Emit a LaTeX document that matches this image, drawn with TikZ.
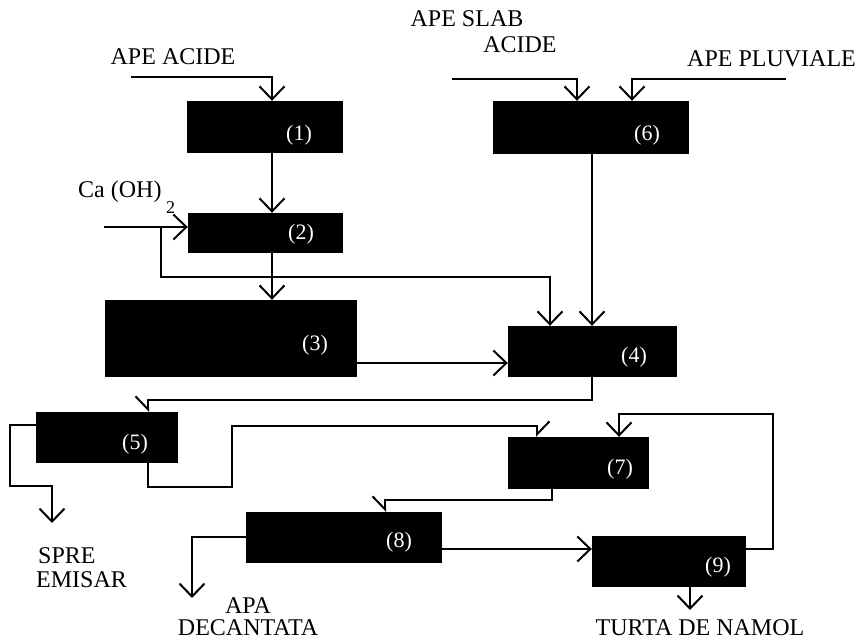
\documentclass[tikz,border=0pt]{standalone}
\usepackage{fontspec}
\setmainfont{Liberation Serif}
\usetikzlibrary{arrows.meta,calc}
\begin{document}
\begin{tikzpicture}[x=1pt,y=-1pt,
  blk/.style={fill=black,draw=none,inner sep=0pt},
  num/.style={text=white,inner sep=0pt,font=\fontsize{22}{22}\selectfont},
  txt/.style={inner sep=0pt,anchor=base,font=\fontsize{24}{24}\selectfont},
  ln/.style={line width=2pt},
  arr/.style={ln,-{Straight Barb[length=13pt,width=25pt,line width=2pt]}},
  arrL/.style={ln,-{Straight Barb[length=13pt,width=25pt,line width=2pt,left]}},
  arrR/.style={ln,-{Straight Barb[length=13pt,width=25pt,line width=2pt,right]}}]
\useasboundingbox (0,0) rectangle (857,639);
\fill[white] (0,0) rectangle (857,639);
% boxes
\node[blk,minimum width=156pt,minimum height=52pt] (b1) at (265,127) {};
\node[blk,minimum width=155pt,minimum height=40pt] (b2) at (265.5,233) {};
\node[blk,minimum width=252pt,minimum height=77pt] (b3) at (231,338.5) {};
\node[blk,minimum width=169pt,minimum height=51pt] (b4) at (592.5,351.5) {};
\node[blk,minimum width=142pt,minimum height=51pt] (b5) at (107,437.5) {};
\node[blk,minimum width=196pt,minimum height=53pt] (b6) at (591,127.5) {};
\node[blk,minimum width=141pt,minimum height=52pt] (b7) at (578.5,463) {};
\node[blk,minimum width=196pt,minimum height=51pt] (b8) at (344,537.5) {};
\node[blk,minimum width=154pt,minimum height=51pt] (b9) at (669,561.5) {};
% numbers
\node[num] (n1) at (299,135) {(1)};
\node[num] (n2) at (301,234) {(2)};
\node[num] (n3) at (315,345) {(3)};
\node[num] (n4) at (634,357) {(4)};
\node[num] (n5) at (135,444) {(5)};
\node[num] (n6) at (647,135) {(6)};
\node[num] (n7) at (620,469) {(7)};
\node[num] (n8) at (399,542) {(8)};
\node[num] (n9) at (718,567) {(9)};
% texts
\node[txt] (tA) at (173,65) {APE ACIDE};
\node[txt] (tS1) at (467,27) {APE SLAB};
\node[txt] (tS2) at (520,53) {ACIDE};
\node[txt,anchor=base west] (tP) at (687,67) {APE PLUVIALE};
\node[txt,anchor=base west] (tCa) at (78,198) {Ca (OH)};
\node[txt,anchor=base west,font=\fontsize{18}{18}\selectfont] (tCa2) at (166,214) {2};
\node[txt,anchor=base west] (tE1) at (38,563) {SPRE};
\node[txt,anchor=base west] (tE2) at (36,587) {EMISAR};
\node[txt] (tD1) at (248,613) {APA};
\node[txt] (tD2) at (248,635) {DECANTATA};
\node[txt] (tT) at (700,635) {TURTA DE NAMOL};
% columns / rows / free ends
\coordinate (cA) at (272,0);
\coordinate (cB) at (550,0);
\coordinate (cC) at (592,0);
\coordinate (cD) at (577,0);
\coordinate (cE) at (632,0);
\coordinate (cG) at (148,0);
\coordinate (cI) at (537,0);
\coordinate (cK) at (619,0);
\coordinate (cL) at (552,0);
\coordinate (cM) at (385,0);
\coordinate (cO) at (690,0);
\coordinate (rF) at (0,363);
\coordinate (rH) at (0,425);
\coordinate (rJ) at (0,549);
\coordinate (rN) at (0,537);
\coordinate (inA) at (131,77);
\coordinate (inCa) at (104,227);
\coordinate (brCa) at (161,227);
\coordinate (inS) at (452,79);
\coordinate (inP) at (786,79);
\coordinate (outS) at (52,523);
\coordinate (outA) at (192,598);
\coordinate (outT) at (690,610);
% connectors
\draw[arr] (inA) -| (b1.north -| cA);
\draw[arr] (b1.south -| cA) -- (b2.north -| cA);
\draw[arr] (inCa) -- (b2.west |- inCa);
\draw[arr] (brCa) -- ++(0,50) -| (b4.north -| cB);
\draw[arr] (b2.south -| cA) -- (b3.north -| cA);
\draw[arr] (b6.south -| cC) -- (b4.north -| cC);
\draw[arr] (inS) -| (b6.north -| cD);
\draw[arr] (inP) -| (b6.north -| cE);
\draw[arr] (b3.east |- rF) -- (b4.west |- rF);
\draw[arrR] (b4.south -| cC) -- ++(0,23) -| (b5.north -| cG);
\draw[arr] (b5.west |- rH) -| ++(-26,61) -| (outS);
\draw[arrL] (b5.south -| cG) -- ++(0,24) -- ++(84,0) -- ++(0,-61) -| (b7.north -| cI);
\draw[arr] (b9.east |- rJ) -- ++(27,0) -- ++(0,-135) -| (b7.north -| cK);
\draw[arrR] (b7.south -| cL) -- ++(0,11) -| (b8.north -| cM);
\draw[arr] (b8.west |- rN) -| (outA);
\draw[arr] (b8.east |- rJ) -- (b9.west |- rJ);
\draw[arr] (b9.south -| cO) -- (outT);
\end{tikzpicture}
\end{document}
